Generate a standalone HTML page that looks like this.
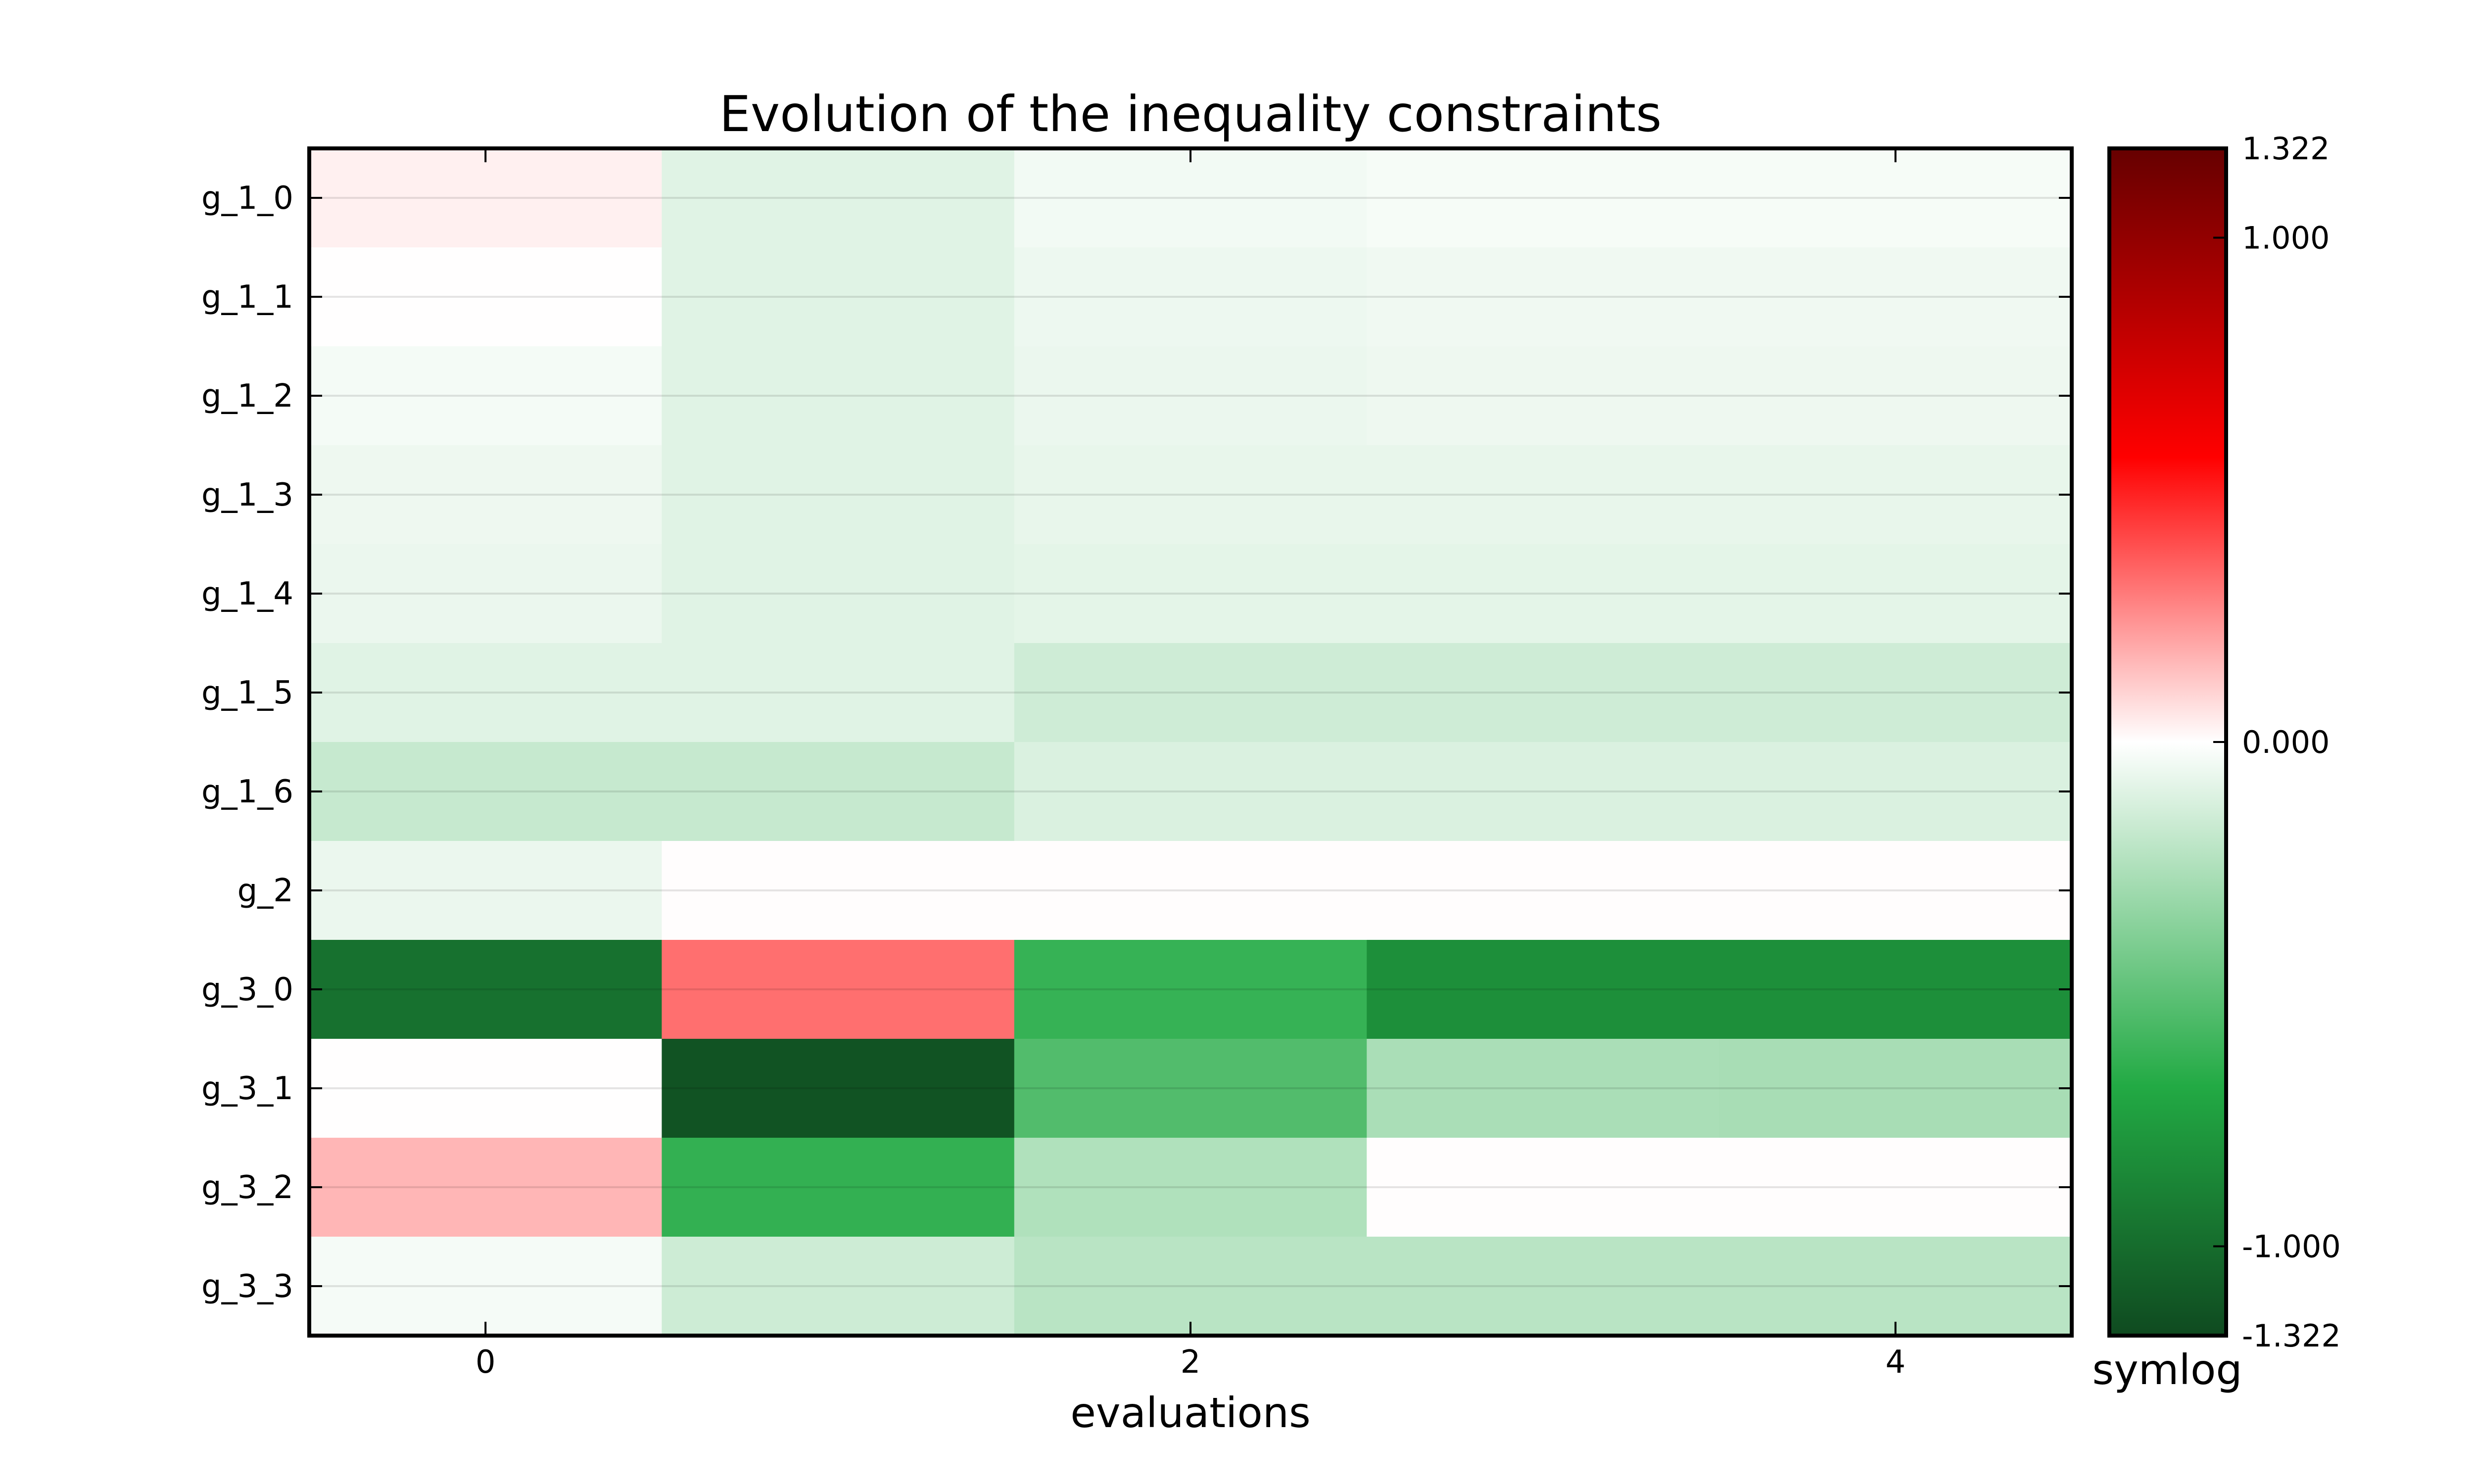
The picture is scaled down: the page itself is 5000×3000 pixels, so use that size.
<!DOCTYPE html>
<html><head><meta charset="utf-8">
<style>
html,body{margin:0;padding:0;background:#fff;}
svg{display:block;font-family:"DejaVu Sans","Liberation Sans",sans-serif;}
</style></head>
<body>
<svg id="chart" width="5000" height="3000" viewBox="0 0 5000 3000" xmlns="http://www.w3.org/2000/svg">
<defs>
<linearGradient id="cbgrad" x1="0" y1="1" x2="0" y2="0">
<stop offset="0" stop-color="#0f4a20"/>
<stop offset="0.21" stop-color="#22aa44"/>
<stop offset="0.5" stop-color="#ffffff"/>
<stop offset="0.74" stop-color="#ff0000"/>
<stop offset="1" stop-color="#660000"/>
</linearGradient>
</defs>
<text x="2406" y="265" font-size="100" text-anchor="middle">Evolution of the inequality constraints</text>
<g id="cells"></g>
<g id="grid"></g>
<rect x="625" y="300" width="3562" height="2400" fill="none" stroke="#000" stroke-width="8"/>
<g id="yaxis"></g>
<g id="xaxis"></g>
<text x="2406" y="2885" font-size="84" text-anchor="middle">evaluations</text>
<rect x="4263" y="300" width="236" height="2400" fill="url(#cbgrad)" stroke="#000" stroke-width="8"/>
<g id="cbticks"></g>
<text x="4380" y="2798" font-size="84" text-anchor="middle">symlog</text>
</svg>
<script>
const rowLabels = ["g_1_0","g_1_1","g_1_2","g_1_3","g_1_4","g_1_5","g_1_6","g_2","g_3_0","g_3_1","g_3_2","g_3_3"];
const evaluations = [0,1,2,3,4];
const xTicks = [0,2,4];
const cbTickValues = [1.322,1.0,0.0,-1.0,-1.322];
const cbTickLabels = ["1.322","1.000","0.000","-1.000","-1.322"];
const r0 = [0.019,-0.055,-0.023,-0.0155,-0.0155];
const r1 = [0.001,-0.055,-0.031,-0.026,-0.026];
const r2 = [-0.019,-0.055,-0.035,-0.030,-0.030];
const r3 = [-0.030,-0.055,-0.041,-0.041,-0.041];
const r4 = [-0.035,-0.055,-0.048,-0.048,-0.048];
const r5 = [-0.055,-0.055,-0.090,-0.090,-0.090];
const r6 = [-0.107,-0.107,-0.067,-0.067,-0.067];
const r7 = [-0.036,0.002,0.002,0.002,0.002];
const r8 = [-0.96,0.21,-0.49,-0.73,-0.73];
const r9 = [0.001,-1.23,-0.40,-0.167,-0.172];
const r10 = [0.097,-0.50,-0.153,0.002,0.002];
const r11 = [-0.017,-0.092,-0.134,-0.134,-0.134];
const values = [r0,r1,r2,r3,r4,r5,r6,r7,r8,r9,r10,r11];
const vmax = 1.322, linC = 0.5;

const NS="http://www.w3.org/2000/svg";
const L=625,R=4187,T=300,B=2700;
const cw=(R-L)/evaluations.length, rh=(B-T)/rowLabels.length;
function xPos(i){return L+(i+0.5)*cw;}
function yPos(j){return T+(j+0.5)*rh;}
function norm(v){const s=Math.sign(v);return 0.5+0.5*s*Math.log10(1+Math.abs(v)/linC)/Math.log10(1+vmax/linC);}
function cbY(v){return B-norm(v)*(B-T);}
const stops=[[0,[15,74,32]],[0.21,[34,170,68]],[0.5,[255,255,255]],[0.74,[255,0,0]],[1,[102,0,0]]];
function cmap(t){t=Math.max(0,Math.min(1,t));for(let k=0;k<stops.length-1;k++){const a=stops[k],b=stops[k+1];if(t<=b[0]){const f=(t-a[0])/(b[0]-a[0]);const c=a[1].map((x,i)=>Math.round(x+(b[1][i]-x)*f));return `rgb(${c[0]},${c[1]},${c[2]})`;}}return "rgb(102,0,0)";}
function mk(tag,attrs,parent,text){const e=document.createElementNS(NS,tag);for(const k in attrs)e.setAttribute(k,attrs[k]);if(text!==undefined)e.textContent=text;parent.appendChild(e);return e;}

const cells=document.getElementById('cells');
values.forEach((row,j)=>{row.forEach((v,i)=>{
  const r=mk('rect',{x:L+i*cw,y:T+j*rh,width:cw+0.5,height:rh+0.5,fill:cmap(norm(v))},cells);
  
  
});});
const grid=document.getElementById('grid');
rowLabels.forEach((lab,j)=>{
  const g=mk('line',{x1:L,x2:R,y1:yPos(j),y2:yPos(j),stroke:"#000","stroke-opacity":0.1,"stroke-width":4},grid);
  
  
});
const yaxis=document.getElementById('yaxis');
rowLabels.forEach((lab,j)=>{
  const y=yPos(j);
  const t1=mk('line',{x1:L,x2:L+26,y1:y,y2:y,stroke:"#000","stroke-width":4},yaxis);
  
  
  const t2=mk('line',{x1:R-26,x2:R,y1:y,y2:y,stroke:"#000","stroke-width":4},yaxis);
  
  
  const tx=mk('text',{x:593,y:y+22,"font-size":64,"text-anchor":"end"},yaxis,lab);
  
  
});
const xaxis=document.getElementById('xaxis');
xTicks.forEach(v=>{
  const x=xPos(v);
  const t1=mk('line',{x1:x,x2:x,y1:B,y2:B-28,stroke:"#000","stroke-width":4},xaxis);
  
  
  const t2=mk('line',{x1:x,x2:x,y1:T,y2:T+28,stroke:"#000","stroke-width":4},xaxis);
  
  
  const tx=mk('text',{x:x,y:2775,"font-size":64,"text-anchor":"middle"},xaxis,String(v));
  
  
});
const cbt=document.getElementById('cbticks');
cbTickValues.forEach((v,k)=>{
  const y=cbY(v);
  const t=mk('line',{x1:4499-26,x2:4499,y1:y,y2:y,stroke:"#000","stroke-width":4},cbt);
  
  
  const tx=mk('text',{x:4531,y:y+22,"font-size":62},cbt,cbTickLabels[k]);
  
  
});
</script>
</body></html>
